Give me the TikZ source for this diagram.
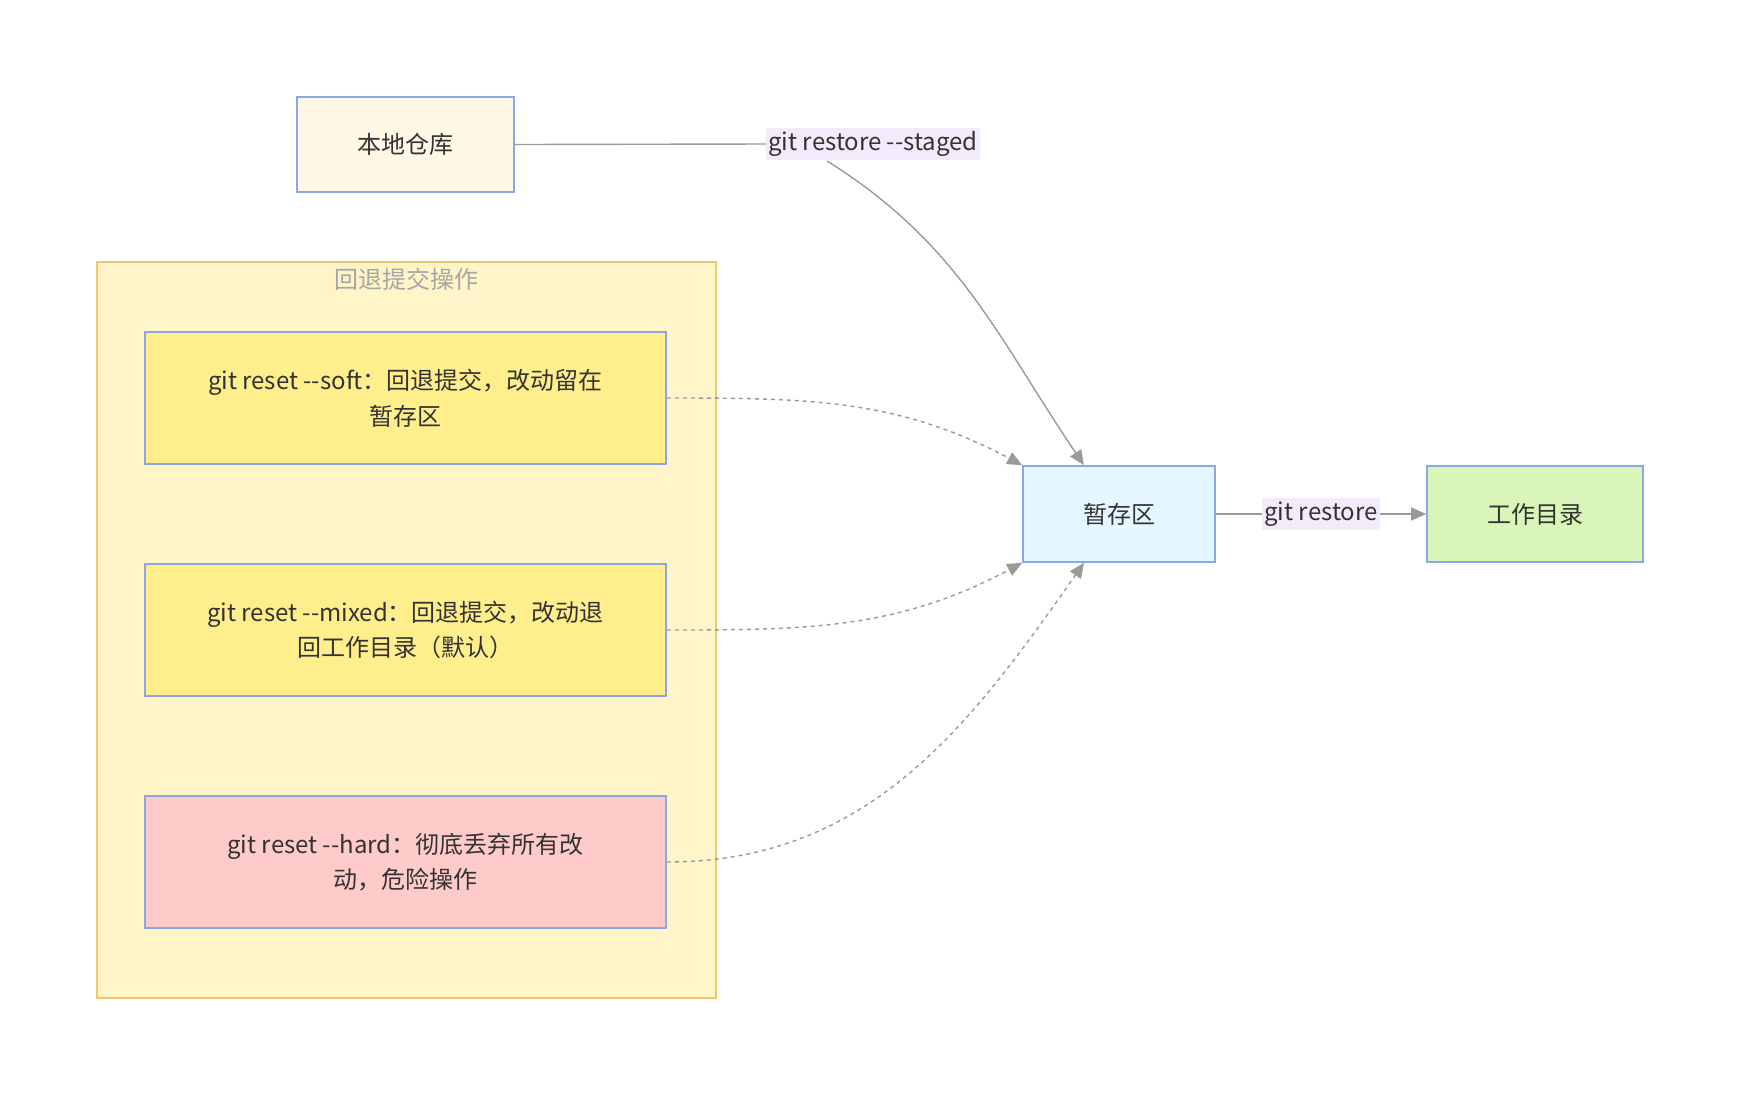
\documentclass[tikz,border=0pt]{standalone}
\usepackage{fontspec}
\setmainfont{Noto Sans CJK SC}
\usetikzlibrary{arrows.meta}
\definecolor{edgegray}{HTML}{9A9A9A}
\definecolor{boxblue}{HTML}{8AA8E6}
\definecolor{txt}{HTML}{333333}
\definecolor{grpfill}{HTML}{FFF5C8}
\definecolor{grpline}{HTML}{F3C56C}
\definecolor{opyellow}{HTML}{FFEE8C}
\definecolor{opred}{HTML}{FFCACA}
\definecolor{localfill}{HTML}{FFF7E6}
\definecolor{stagefill}{HTML}{E4F6FF}
\definecolor{workfill}{HTML}{D9F6B8}
\definecolor{lblfill}{HTML}{F1EBFB}
\begin{document}
\begin{tikzpicture}[x=0.5pt,y=-0.5pt,
  box/.style={draw=boxblue,line width=0.8pt,text=txt,align=center,
    font=\fontsize{12}{17.8}\selectfont,inner sep=0pt},
  opbox/.style={box,minimum width=260.5pt,minimum height=66pt},
  elabel/.style={fill=lblfill,text=txt,font=\fontsize{12}{14}\selectfont,
    inner sep=1pt,minimum height=16pt},
  edge/.style={draw=edgegray,line width=0.7pt,-{Triangle[length=7.5pt,width=6.5pt,fill=edgegray]}},
  dotedge/.style={edge,dash pattern=on 2pt off 2pt}]
\useasboundingbox (0,0) rectangle (1740,1094);
% group
\draw[fill=grpfill,draw=grpline,line width=0.8pt] (97,262) rectangle (716,998);
\node[text=gray!70,font=\fontsize{12}{14}\selectfont] (title) at (406,279) {回退提交操作};
% boxes
\node[box,fill=localfill,minimum width=108.5pt,minimum height=47.5pt] (local) at (405.5,144.5) {本地仓库};
\node[opbox,fill=opyellow] (soft) at (405.5,398) {git reset -{}-soft：回退提交，改动留在\\暂存区};
\node[opbox,fill=opyellow] (mixed) at (405.5,630) {git reset -{}-mixed：回退提交，改动退\\回工作目录（默认）};
\node[opbox,fill=opred] (hard) at (405.5,862) {git reset -{}-hard：彻底丢弃所有改\\动，危险操作};
\node[box,fill=stagefill,minimum width=96pt,minimum height=48pt] (stage) at (1119,514) {暂存区};
\node[box,fill=workfill,minimum width=108pt,minimum height=48pt] (work) at (1535,514) {工作目录};
% edges
\draw[draw=edgegray,line width=0.7pt] (local.east) -- (766,144) coordinate (a1);
\draw[edge] (827,161) coordinate (a2) to[out=-32,in=124] ([xshift=-17.5pt]stage.north);
\node[elabel,anchor=west] (lblA) at (a1) {git restore -{}-staged};
\draw[dotedge] (soft.east) to[out=0,in=152] (stage.north west);
\draw[dotedge] (mixed.east) to[out=0,in=-152] (stage.south west);
\draw[dotedge] (hard.east) to[out=0,in=-125] ([xshift=-17.5pt]stage.south);
\draw[edge] (stage) -- (work);
\node[elabel] (lblB) at (1321,514) {git restore};
\end{tikzpicture}
\end{document}
